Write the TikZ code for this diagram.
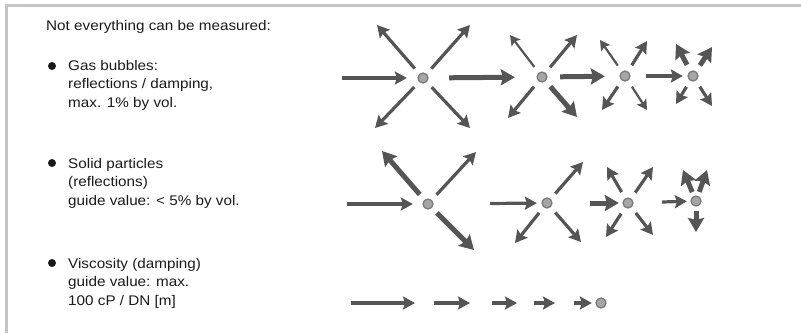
\documentclass[tikz,border=0pt]{standalone}
\usepackage{fontspec}
\setmainfont[FakeStretch=1.09]{Liberation Sans}
\usetikzlibrary{arrows.meta}

\definecolor{framegray}{HTML}{C4C4CC}
\definecolor{arrowgray}{HTML}{555555}
\definecolor{dotfill}{HTML}{A6A6A6}
\definecolor{dotrim}{HTML}{7A7A7A}
\definecolor{textblack}{HTML}{1A1A1A}

\tikzset{
  particle/.style={circle,draw=dotrim,fill=dotfill,line width=1.3pt,minimum size=10pt,inner sep=0pt},
  bullet/.style={circle,fill=textblack,minimum size=8pt,inner sep=0pt},
  caption/.style={anchor=base west,align=left,inner sep=0pt,text=textblack},
  flow/.style={draw=arrowgray,line width=3.2pt,-{Stealth[length=12pt,width=13pt,inset=2pt]}},
  thinflow/.style={flow,line width=2.2pt,-{Stealth[length=10pt,width=11pt,inset=2pt]}},
  thickflow/.style={flow,line width=5pt,-{Stealth[length=14pt,width=16pt,inset=2pt]}},
  away/.style={shorten <=7pt}
}

\begin{document}
\begin{tikzpicture}[x=1pt,y=-1pt,font=\fontsize{14}{18.5}\selectfont]
  \useasboundingbox (0,0) rectangle (801,333);
  \draw[framegray,line width=3pt] (801,5) -| (6,333);

  % texts (placed by the baseline of their last line)
  \node[caption] (title) at (46,30) {Not everything can be measured:};
  \node[bullet] (b1) at (52,66) {};
  \node[caption] (gas) at (68,107) {Gas bubbles:\\reflections / damping,\\max. 1\% by vol.};
  \node[bullet] (b2) at (52,163) {};
  \node[caption] (solid) at (68,205) {Solid particles\\(reflections)\\guide value: < 5\% by vol.};
  \node[bullet] (b3) at (52,263) {};
  \node[caption] (visc) at (68,305) {Viscosity (damping)\\guide value: max.\\100 cP / DN [m]};

  % gas bubbles
  \node[particle] (g1) at (423,78) {};
  \node[particle] (g2) at (542,77) {};
  \node[particle] (g3) at (625,76) {};
  \node[particle] (g4) at (693,76) {};
  \coordinate (gin) at (342,78);
  \coordinate (g1nw) at (377,25);  \coordinate (g1ne) at (470,25);
  \coordinate (g1sw) at (375,128); \coordinate (g1se) at (470,128);
  \coordinate (g2nw) at (510,35);  \coordinate (g2ne) at (577,35);
  \coordinate (g2sw) at (508,118); \coordinate (g2se) at (577,117);
  \coordinate (g3nw) at (600,40);  \coordinate (g3ne) at (647,41);
  \coordinate (g3sw) at (602,110); \coordinate (g3se) at (647,110);
  \coordinate (g4nw) at (676,44);  \coordinate (g4ne) at (712,47);
  \coordinate (g4sw) at (676,104); \coordinate (g4se) at (712,106);

  \draw[flow,shorten >=10.5pt] (gin) -- (g1);
  \draw[thickflow,shorten <=20.5pt,shorten >=21.5pt] (g1) -- (g2);
  \draw[thickflow,shorten <=12.5pt,shorten >=14.5pt] (g2) -- (g3);
  \draw[flow,shorten <=15.5pt,shorten >=4.5pt] (g3) -- (g4);
  \foreach \from/\to in {g1/g1nw,g1/g1ne,g1/g1sw,g1/g1se,g2/g2ne,g2/g2sw,g3/g3ne,g3/g3sw,g4/g4sw,g4/g4se}
    \draw[flow,away] (\from) -- (\to);
  \foreach \from/\to in {g2/g2nw,g3/g3nw,g3/g3se}
    \draw[thinflow,away] (\from) -- (\to);
  \foreach \from/\to in {g2/g2se,g4/g4nw,g4/g4ne}
    \draw[thickflow,away] (\from) -- (\to);

  % solid particles
  \node[particle] (s1) at (428,204) {};
  \node[particle] (s2) at (547,203) {};
  \node[particle] (s3) at (628,203) {};
  \node[particle] (s4) at (696,201) {};
  \coordinate (sin) at (347,204);
  \coordinate (s1nw) at (382,151); \coordinate (s1ne) at (476,152);
  \coordinate (s1se) at (474,250);
  \coordinate (s2ne) at (583,162); \coordinate (s2sw) at (515,243);
  \coordinate (s2se) at (581,242);
  \coordinate (s3nw) at (607,167); \coordinate (s3ne) at (653,167);
  \coordinate (s3sw) at (606,237); \coordinate (s3se) at (653,235);
  \coordinate (s4nw) at (683,170); \coordinate (s4ne) at (707,170);
  \coordinate (s4s) at (696,232);

  \draw[flow,shorten >=9.5pt] (sin) -- (s1);
  \draw[flow,shorten <=56.5pt,shorten >=4.5pt] (s1) -- (s2);
  \draw[thickflow,shorten <=37.5pt,shorten >=3.5pt] (s2) -- (s3);
  \draw[flow,shorten <=28.5pt,shorten >=3.5pt] (s3) -- (s4);
  \foreach \from/\to in {s1/s1ne,s2/s2ne,s2/s2sw,s2/s2se,s3/s3nw,s3/s3ne,s3/s3sw,s3/s3se}
    \draw[flow,away] (\from) -- (\to);
  \foreach \from/\to in {s1/s1nw,s1/s1se}
    \draw[thickflow,away] (\from) -- (\to);
  \foreach \from/\to in {s4/s4nw,s4/s4ne,s4/s4s}
    \draw[thickflow,shorten <=4pt] (\from) -- (\to);

  % viscosity
  \node[particle] (v1) at (601,303) {};
  \coordinate (va) at (351,303); \coordinate (vb) at (415,303);
  \coordinate (vc) at (434,303); \coordinate (vd) at (470,303);
  \coordinate (ve) at (492,303); \coordinate (vf) at (517,303);
  \coordinate (vg) at (534,303); \coordinate (vh) at (555,303);
  \coordinate (vi) at (574,303);
  \foreach \from/\to in {va/vb,vc/vd,ve/vf,vg/vh}
    \draw[flow] (\from) -- (\to);
  \draw[flow,shorten >=3.5pt] (vi) -- (v1);
\end{tikzpicture}
\end{document}
